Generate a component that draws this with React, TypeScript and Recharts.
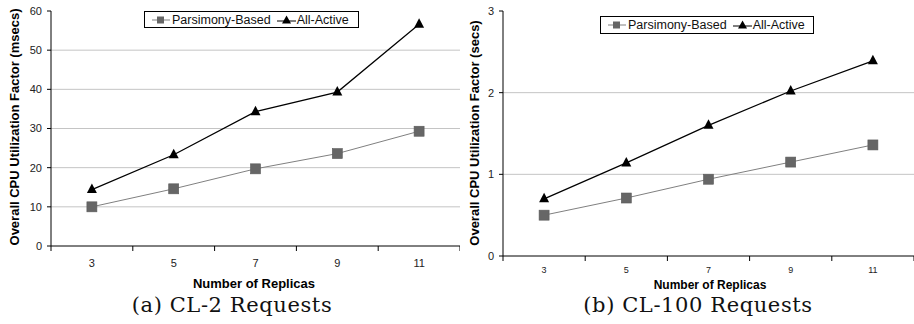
import React from 'react';
import { LineChart, Line, XAxis, YAxis, ReferenceLine, Legend, Label } from 'recharts';

// ---- data ----
const replicas = [3, 5, 7, 9, 11];
const replicaLabels = ['3', '5', '7', '9', '11'];
const bandEdges = [2, 4, 6, 8, 10, 12];

const cl2Parsimony = [10.0, 14.6, 19.7, 23.6, 29.3];
const cl2AllActive = [14.4, 23.3, 34.3, 39.3, 56.6];
const cl2YTicks = [0, 10, 20, 30, 40, 50, 60];
const cl2Grid = [10, 20, 30, 40, 50];

const cl100Parsimony = [0.5, 0.71, 0.94, 1.15, 1.36];
const cl100AllActive = [0.7, 1.14, 1.6, 2.02, 2.39];
const cl100YTicks = [0, 1, 2, 3];
const cl100Grid = [1, 2];

const seriesNames = ['Parsimony-Based', 'All-Active'];

const buildRows = (a: number[], b: number[]) =>
  replicas.map((r, i) => ({ x: r, parsimony: a[i], allActive: b[i] }));

const xTicks = [...bandEdges, ...replicas].sort((p, q) => p - q);

const FONT = '"Liberation Sans", Arial, Helvetica, sans-serif';

const SquareDot = (props: any) => {
  const { cx, cy, index } = props;
  if (cx == null || cy == null) return <g key={`s-${index}`} />;
  return <rect key={`s-${index}`} x={cx - 5} y={cy - 5} width={10} height={10} fill="#666666" stroke="#5a5a5a" strokeWidth={0.6} />;
};

const TriDot = (props: any) => {
  const { cx, cy, index } = props;
  if (cx == null || cy == null) return <g key={`t-${index}`} />;
  return (
    <polygon
      key={`t-${index}`}
      points={`${cx},${cy - 6} ${cx - 5},${cy + 3.5} ${cx + 5},${cy + 3.5}`}
      fill="#000"
    />
  );
};

const makeXTick = (fontSize: number, gap: number) => (props: any) => {
  const { x, y, payload, index } = props;
  const v = payload.value;
  if (bandEdges.includes(v)) {
    return <line key={`xt-${index}`} x1={x} x2={x} y1={y} y2={y + 5} stroke="#000" strokeWidth={1} />;
  }
  const i = replicas.indexOf(v);
  return (
    <text key={`xt-${index}`} x={x} y={y + gap} textAnchor="middle" dominantBaseline="central" fontSize={fontSize} fill="#222">
      {replicaLabels[i]}
    </text>
  );
};

const LegendBox = ({ fontSize }: { fontSize: number }) => (
  <div
    style={{
      boxSizing: 'border-box',
      width: '100%',
      height: '100%',
      border: '1px solid #000',
      background: '#fff',
      display: 'flex',
      alignItems: 'center',
      paddingLeft: 7,
      fontFamily: FONT,
      fontSize,
      color: '#111',
      whiteSpace: 'nowrap',
    }}
  >
    <svg width={18} height={12} style={{ display: 'block' }}>
      <line x1={0} x2={18} y1={6} y2={6} stroke="#808080" strokeWidth={1} />
      <rect x={5} y={2.5} width={7} height={7} fill="#666" />
    </svg>
    <span style={{ marginLeft: 2 }}>{seriesNames[0]}</span>
    <svg width={19} height={12} style={{ display: 'block', marginLeft: 6 }}>
      <line x1={0} x2={19} y1={7} y2={7} stroke="#000" strokeWidth={1} />
      <polygon points="9.5,1.5 5,9.5 14,9.5" fill="#000" />
    </svg>
    <span style={{ marginLeft: 1 }}>{seriesNames[1]}</span>
  </div>
);

type PanelProps = {
  width: number;
  height: number;
  yAxisWidth: number;
  xAxisHeight: number;
  top: number;
  rows: any[];
  yTicks: number[];
  grid: number[];
  yLabel: string;
  yLabelX: number;
  yLabelY: number;
  xLabelX: number;
  xLabelY: number;
  xLabelSize: number;
  xTickSize: number;
  xTickGap: number;
  legendLeft: number;
  legendTop: number;
  legendWidth: number;
  legendHeight: number;
};

const Panel = (p: PanelProps) => (
  <LineChart
    width={p.width}
    height={p.height}
    data={p.rows}
    margin={{ top: p.top, right: 0, left: 0, bottom: 0 }}
    style={{ fontFamily: FONT }}
  >
    {p.grid.map((g) => (
      <ReferenceLine key={`g-${g}`} y={g} stroke="#c4c4c4" strokeWidth={1} ifOverflow="hidden" />
    ))}
    <XAxis
      dataKey="x"
      type="number"
      domain={[bandEdges[0], bandEdges[bandEdges.length - 1]]}
      ticks={xTicks}
      interval={0}
      tickSize={0}
      tickMargin={0}
      tickLine={false}
      axisLine={{ stroke: '#000', strokeWidth: 1 }}
      tick={makeXTick(p.xTickSize, p.xTickGap)}
      height={p.xAxisHeight}
      allowDecimals
    >
      <Label
        content={() => (
          <text x={p.xLabelX} y={p.xLabelY} textAnchor="middle" fontSize={p.xLabelSize} fontWeight="bold" fill="#000">
            Number of Replicas
          </text>
        )}
      />
    </XAxis>
    <YAxis
      type="number"
      domain={[p.yTicks[0], p.yTicks[p.yTicks.length - 1]]}
      ticks={p.yTicks}
      interval={0}
      width={p.yAxisWidth}
      tickSize={4}
      tickMargin={5}
      axisLine={{ stroke: '#000', strokeWidth: 1 }}
      tickLine={{ stroke: '#000' }}
      tick={{ fontSize: 11, fill: '#222' }}
    >
      <Label
        content={() => (
          <text
            x={p.yLabelX}
            y={p.yLabelY}
            transform={`rotate(-90 ${p.yLabelX} ${p.yLabelY})`}
            textAnchor="middle"
            dominantBaseline="central"
            fontSize={13}
            fontWeight="bold"
            fill="#000"
          >
            {p.yLabel}
          </text>
        )}
      />
    </YAxis>
    <Legend
      layout="horizontal"
      verticalAlign="middle"
      align="center"
      wrapperStyle={{ left: p.legendLeft, top: p.legendTop, width: p.legendWidth, height: p.legendHeight }}
      content={() => <LegendBox fontSize={12.5} />}
    />
    <Line
      dataKey="parsimony"
      name={seriesNames[0]}
      stroke="#808080"
      strokeWidth={1}
      dot={SquareDot}
      activeDot={false}
      isAnimationActive={false}
    />
    <Line
      dataKey="allActive"
      name={seriesNames[1]}
      stroke="#000"
      strokeWidth={1.2}
      dot={TriDot}
      activeDot={false}
      isAnimationActive={false}
    />
  </LineChart>
);

const captionStyle: React.CSSProperties = {
  position: 'absolute',
  fontFamily: '"DejaVu Serif", serif',
  fontSize: 21,
  letterSpacing: 0.6,
  color: '#111',
  whiteSpace: 'nowrap',
  transform: 'translateX(-50%)',
  lineHeight: '20px',
};

export default function App() {
  return (
    <div style={{ position: 'absolute', left: 0, top: 0, width: 914, height: 324, background: '#fff', overflow: 'hidden', fontFamily: FONT }}>
      <div style={{ position: 'absolute', left: 0, top: 0 }}>
        <Panel
          width={460}
          height={324}
          yAxisWidth={51}
          xAxisHeight={78}
          top={11}
          rows={buildRows(cl2Parsimony, cl2AllActive)}
          yTicks={cl2YTicks}
          grid={cl2Grid}
          yLabel="Overall CPU Utilization Factor (msecs)"
          yLabelX={14}
          yLabelY={127}
          xLabelX={254}
          xLabelY={288}
          xLabelSize={13}
          xTickSize={11}
          xTickGap={17}
          legendLeft={144}
          legendTop={11}
          legendWidth={215}
          legendHeight={17}
        />
      </div>
      <div style={{ position: 'absolute', left: 460, top: 0 }}>
        <Panel
          width={454}
          height={324}
          yAxisWidth={43}
          xAxisHeight={68}
          top={11}
          rows={buildRows(cl100Parsimony, cl100AllActive)}
          yTicks={cl100YTicks}
          grid={cl100Grid}
          yLabel="Overall CPU Utilization Factor (secs)"
          yLabelX={14}
          yLabelY={133}
          xLabelX={250}
          xLabelY={289}
          xLabelSize={12}
          xTickSize={9}
          xTickGap={13.5}
          legendLeft={140}
          legendTop={16}
          legendWidth={214}
          legendHeight={18}
        />
      </div>
      <div style={{ ...captionStyle, left: 232, top: 295 }}>(a) CL-2 Requests</div>
      <div style={{ ...captionStyle, left: 698, top: 295 }}>(b) CL-100 Requests</div>
    </div>
  );
}
